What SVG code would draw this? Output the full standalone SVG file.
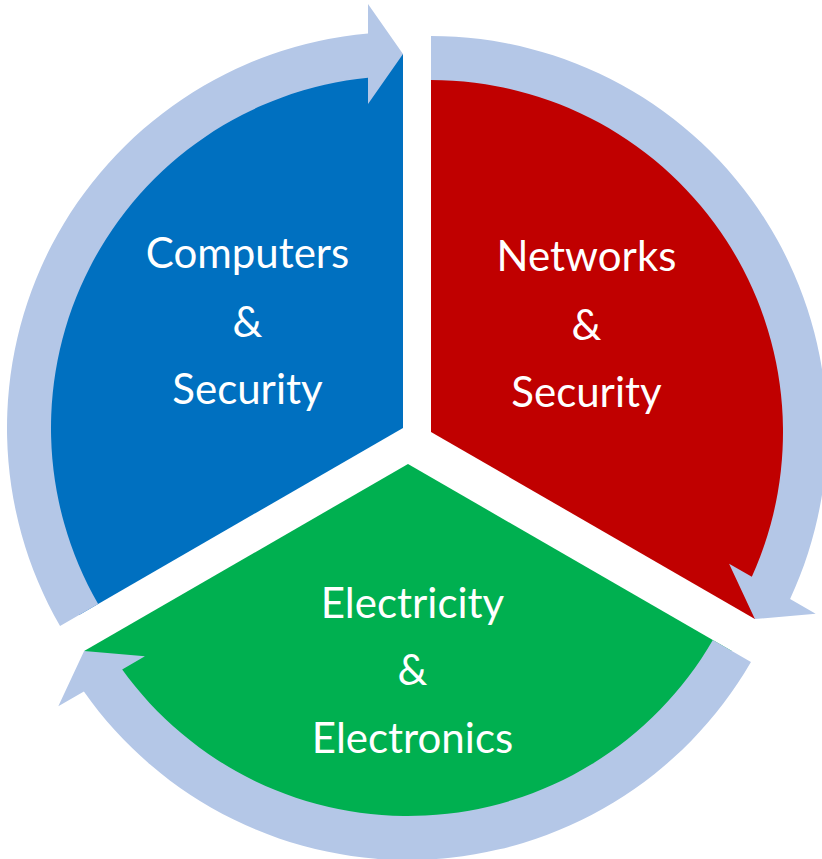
<svg xmlns="http://www.w3.org/2000/svg" width="822" height="859" viewBox="0 0 822 859">
<style>
.lbl{font-family:Lato,"Open Sans","Liberation Sans",sans-serif;font-size:42px;fill:#ffffff;text-anchor:middle}
.ring{fill:#B4C7E7}
</style>
<rect width="822" height="859" fill="#ffffff"/>
<g id="node-computers">
<path d="M403,428 L79.12,615 A374,374 0 0 1 403,54 Z" fill="#0070C0"/>
<text class="lbl" x="247.5" y="268">Computers</text>
<text class="lbl" x="247.5" y="337">&amp;</text>
<text class="lbl" x="247.5" y="404">Security</text>
</g>
<g id="node-networks">
<path d="M431,432 L431,58 A374,374 0 0 1 754.88,619 Z" fill="#C00000"/>
<text class="lbl" x="586.5" y="271">Networks</text>
<text class="lbl" x="586.5" y="340">&amp;</text>
<text class="lbl" x="586.5" y="407">Security</text>
</g>
<g id="node-electricity">
<path d="M408,464 L731.88,651 A374,374 0 0 1 84.12,651 Z" fill="#00B050"/>
<text class="lbl" x="412.5" y="618">Electricity</text>
<text class="lbl" x="412.5" y="685">&amp;</text>
<text class="lbl" x="412.5" y="753">Electronics</text>
</g>
<g id="connectors">
<path class="ring" d="M60.05,626 A396,396 0 0 1 368,33.55 L368,4 L403,54 L368,104 L368,77.74 A352,352 0 0 0 98.16,604 Z"/>
<path class="ring" d="M431,36 A396,396 0 0 1 790.10,598.92 L815.68,613.69 L754.88,619 L729.08,563.69 L751.83,576.82 A352,352 0 0 0 431,80 Z"/>
<path class="ring" d="M750.95,662 A396,396 0 0 1 83.90,691.54 L58.32,706.31 L84.12,651 L144.92,656.31 L122.17,669.44 A352,352 0 0 0 712.84,640 Z"/>
</g>
</svg>
